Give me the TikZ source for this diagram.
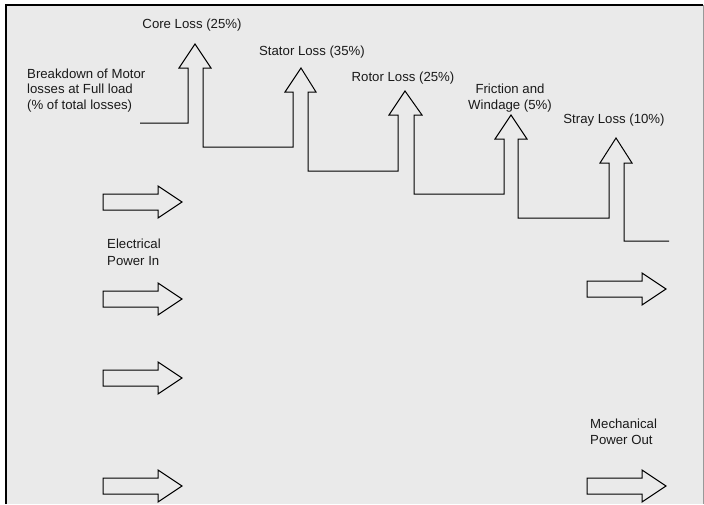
\documentclass[tikz,border=0pt]{standalone}
\usepackage{fontspec}
\setmainfont{Liberation Sans}
\definecolor{bggray}{HTML}{EAEAEA}
\definecolor{txtgray}{HTML}{1A1A1A}
\begin{document}
\begin{tikzpicture}[x=1pt,y=-1pt,
  lbl/.style={inner sep=0pt, font=\fontsize{13.2}{16}\selectfont, text=txtgray},
  flow/.style={draw=black, line width=1pt, line join=miter},
  rarrow/.pic={\draw[flow] (0,-8) -- (55,-8) -- (55,-16) -- (79,0) -- (55,16) -- (55,8) -- (0,8) -- cycle;}]
\useasboundingbox (0,0) rectangle (704,504);
\fill[white] (0,0) rectangle (704,504);
\fill[bggray] (6,5) rectangle (704,504);
\draw[gray!80, line width=1pt] (703,5) -- (703,504);
\draw[black, line width=2pt] (6,504) -- (6,5) -- (703,5);
% loss chain
\draw[flow]
  (140,123) -- (188,123) -- (188,68) -- (179,68) -- (195,44) -- (211,68) -- (203,68) -- (203,147)
  -- (293,147) -- (293,92) -- (285,92) -- (301,68) -- (316,92) -- (308,92) -- (308,171)
  -- (398,171) -- (398,115) -- (389,115) -- (405,91) -- (422,115) -- (414,115) -- (414,194)
  -- (504,194) -- (504,139) -- (495,139) -- (511,115) -- (527,139) -- (518,139) -- (518,218)
  -- (609,218) -- (609,163) -- (600,163) -- (616,138) -- (632,163) -- (624,163) -- (624,241)
  -- (669,241);
% input arrows
\pic at (103,202) {rarrow};
\pic at (103,299) {rarrow};
\pic at (103,378) {rarrow};
\pic at (103,486) {rarrow};
% output arrows
\pic at (587,289) {rarrow};
\pic at (587,486) {rarrow};
% labels
\node[lbl, anchor=base] (core) at (192,28) {Core Loss (25\%)};
\node[lbl, anchor=base] (stator) at (312,55) {Stator Loss (35\%)};
\node[lbl, anchor=base] (rotor) at (403,81) {Rotor Loss (25\%)};
\node[lbl, anchor=base, align=center] (fric) at (510,109) {Friction and\\Windage (5\%)};
\node[lbl, anchor=base] (stray) at (614,123) {Stray Loss (10\%)};
\node[lbl, anchor=base west, align=left, font=\fontsize{13.2}{15.5}\selectfont] (title) at (27,109) {Breakdown of Motor\\losses at Full load\\(\% of total losses)};
\node[lbl, anchor=base west, align=left, font=\fontsize{13.2}{17}\selectfont] (ein) at (107,265) {Electrical\\Power In};
\node[lbl, anchor=base west, align=left] (mout) at (590,444) {Mechanical\\Power Out};
\end{tikzpicture}
\end{document}
